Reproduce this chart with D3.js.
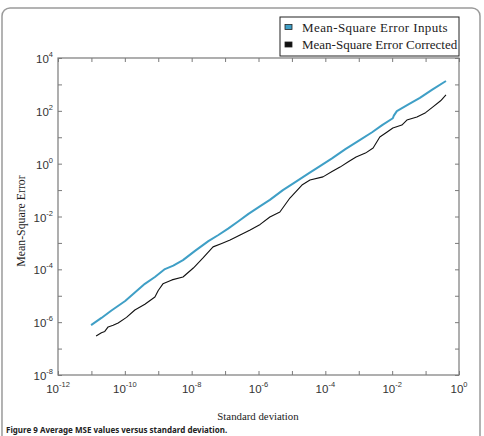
<!DOCTYPE html>
<html><head><meta charset="utf-8">
<script src="https://cdn.jsdelivr.net/npm/d3@7"></script>
<style>html,body{margin:0;padding:0;background:#fff;}svg{display:block;}</style>
</head><body>
<script>
// Data (log10 values)
const seriesNames = ["Mean-Square Error Inputs", "Mean-Square Error Corrected"];
const inputsLogX = [-11.01,-10.7,-10.4,-9.99,-9.7,-9.40,-9.1,-8.8,-8.55,-8.26,-7.9,-7.5,-7.2,-6.91,-6.6,-6.3,-5.96,-5.66,-5.27,-4.9,-4.5,-4.16,-3.8,-3.4,-2.96,-2.6,-2.3,-1.98,-1.95,-1.86,-1.5,-1.17,-0.8,-0.39];
const inputsLogY = [-6.11,-5.84,-5.56,-5.20,-4.88,-4.55,-4.29,-3.99,-3.86,-3.65,-3.30,-2.93,-2.70,-2.46,-2.18,-1.90,-1.62,-1.37,-1.00,-0.70,-0.37,-0.09,0.20,0.55,0.90,1.19,1.46,1.72,1.82,1.99,2.25,2.49,2.80,3.13];
const correctedLogX = [-10.86,-10.7,-10.6,-10.50,-10.35,-10.20,-9.95,-9.70,-9.4,-9.10,-9.0,-8.86,-8.59,-8.26,-7.95,-7.66,-7.36,-7.1,-6.85,-6.55,-6.25,-5.95,-5.66,-5.36,-5.06,-4.70,-4.46,-4.07,-3.8,-3.56,-3.3,-3.08,-2.8,-2.57,-2.37,-2.15,-1.98,-1.71,-1.56,-1.26,-1.0,-0.78,-0.55,-0.39];
const correctedLogY = [-6.52,-6.40,-6.35,-6.18,-6.12,-6.03,-5.82,-5.54,-5.32,-5.05,-4.80,-4.55,-4.40,-4.29,-3.95,-3.57,-3.15,-3.02,-2.89,-2.70,-2.51,-2.30,-2.02,-1.83,-1.30,-0.81,-0.62,-0.50,-0.30,-0.13,0.08,0.25,0.40,0.59,1.01,1.20,1.35,1.46,1.65,1.77,1.93,2.15,2.38,2.60];
const xTickExps = [-12,-10,-8,-6,-4,-2,0];
const yTickExps = [-8,-6,-4,-2,0,2,4];
const xLabel = "Standard deviation";
const yLabel = "Mean-Square Error";
const caption = "Figure 9 Average MSE values versus standard deviation.";

const W = 484, H = 436;
const svg = d3.select("body").append("svg").attr("width", W).attr("height", H);

// outer frame
svg.append("rect").attr("x", 2).attr("y", 8).attr("width", 478).attr("height", 460)
  .attr("rx", 8).attr("fill", "none").attr("stroke", "#9a9a9a").attr("stroke-width", 1.5);

const L = 58, R = 459, T = 58, B = 375;
const x = d3.scaleLog().domain([1e-12, 1]).range([L, R]);
const y = d3.scaleLog().domain([1e-8, 1e4]).range([B, T]);

const axisColor = "#7a7a7a";
const allX = d3.range(-12, 1).map(e => Math.pow(10, e));
const allY = d3.range(-8, 5).map(e => Math.pow(10, e));

function styleAxis(g) {
  g.select(".domain").remove();
  g.selectAll(".tick line").attr("stroke", axisColor).attr("stroke-width", 1);
  g.selectAll(".tick text").remove();
}
svg.append("g").attr("transform", `translate(0,${B})`)
  .call(d3.axisBottom(x).tickValues(allX).tickSizeInner(-4).tickSizeOuter(0)).call(styleAxis);
svg.append("g").attr("transform", `translate(0,${T})`)
  .call(d3.axisTop(x).tickValues(allX).tickSizeInner(-4).tickSizeOuter(0)).call(styleAxis);
svg.append("g").attr("transform", `translate(${L},0)`)
  .call(d3.axisLeft(y).tickValues(allY).tickSizeInner(-4).tickSizeOuter(0)).call(styleAxis);
svg.append("g").attr("transform", `translate(${R},0)`)
  .call(d3.axisRight(y).tickValues(allY).tickSizeInner(-4).tickSizeOuter(0)).call(styleAxis);

svg.append("rect").attr("x", L).attr("y", T).attr("width", R - L).attr("height", B - T)
  .attr("fill", "none").attr("stroke", axisColor).attr("stroke-width", 1.2);

// tick labels
const tickFont = "'Liberation Sans', Arial, sans-serif";
xTickExps.forEach(e => {
  const t = svg.append("text").attr("x", x(Math.pow(10, e))).attr("y", B + 18)
    .attr("text-anchor", "middle").attr("font-family", tickFont).attr("font-size", 11.5).attr("fill", "#333");
  t.append("tspan").text("10");
  t.append("tspan").attr("dy", -6).attr("font-size", 7.5).text(e);
});
yTickExps.forEach(e => {
  const t = svg.append("text").attr("x", L - 5).attr("y", y(Math.pow(10, e)) + 5)
    .attr("text-anchor", "end").attr("font-family", tickFont).attr("font-size", 11.5).attr("fill", "#333");
  t.append("tspan").text("10");
  t.append("tspan").attr("dy", -6).attr("font-size", 7.5).text(e);
});

// axis titles
const serif = "'Liberation Serif', 'Times New Roman', serif";
svg.append("text").attr("x", 258).attr("y", 420).attr("text-anchor", "middle")
  .attr("font-family", serif).attr("font-size", 10.8).attr("fill", "#222").text(xLabel);
svg.append("text").attr("transform", `translate(25,221) rotate(-90)`).attr("text-anchor", "middle")
  .attr("font-family", serif).attr("font-size", 11.8).attr("fill", "#222").text(yLabel);

// lines
const line = d3.line().x(d => x(Math.pow(10, d[0]))).y(d => y(Math.pow(10, d[1])));
const inputs = inputsLogX.map((v, i) => [v, inputsLogY[i]]);
const corrected = correctedLogX.map((v, i) => [v, correctedLogY[i]]);
const colors = ["#3f9fc6", "#111111"];
svg.append("path").datum(inputs).attr("d", line).attr("fill", "none")
  .attr("stroke", colors[0]).attr("stroke-width", 2).attr("stroke-linejoin", "round");
svg.append("path").datum(corrected).attr("d", line).attr("fill", "none")
  .attr("stroke", colors[1]).attr("stroke-width", 1.1).attr("stroke-linejoin", "round");

// legend
const lg = svg.append("g");
lg.append("rect").attr("x", 280).attr("y", 17).attr("width", 179).attr("height", 39)
  .attr("fill", "#fff").attr("stroke", "#222").attr("stroke-width", 1);
seriesNames.forEach((n, i) => {
  const yy = 27 + i * 17.5;
  lg.append("rect").attr("x", 285).attr("y", yy - 2.5).attr("width", 7).attr("height", 5)
    .attr("fill", colors[i]).attr("stroke", "#222").attr("stroke-width", 0.8);
  lg.append("text").attr("x", 302).attr("y", yy + 4.5).attr("font-family", serif).attr("font-size", 13)
    .attr("letter-spacing", i === 0 ? 0.4 : 0).attr("fill", "#222").text(n);
});

// caption
svg.append("text").attr("x", 6).attr("y", 433).attr("font-family", "'Noto Sans', 'DejaVu Sans', sans-serif")
  .attr("font-size", 8).attr("font-weight", "bold").attr("fill", "#222").text(caption);
</script>
</body></html>
